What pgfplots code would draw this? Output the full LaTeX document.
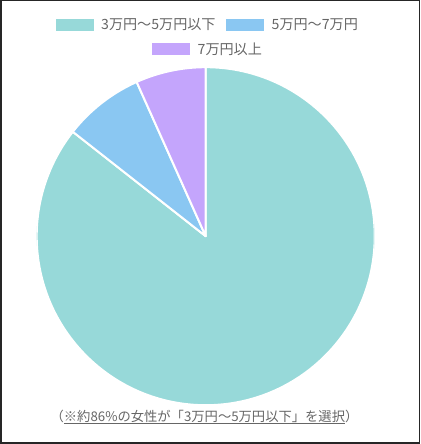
\documentclass[border=0pt]{standalone}
\usepackage{fontspec}
\setmainfont{Noto Sans CJK JP}
\usepackage{pgfplots}
\pgfplotsset{compat=1.18}
\usepackage{pgfplotstable}

\definecolor{pteal}{RGB}{151,217,217}
\definecolor{pblue}{RGB}{138,199,242}
\definecolor{ppurple}{RGB}{196,165,252}
\definecolor{txtgray}{RGB}{102,102,102}

% share of answers, percent
\pgfplotstableread{
value color
85.6 pteal
7.7  pblue
6.7  ppurple
}\piedata

\begin{document}
\begin{tikzpicture}[x=1pt,y=1pt]
\useasboundingbox (0,0) rectangle (420,444);
\draw[black!85, line width=1.5pt] (0.75,0.75) rectangle (419.25,443.25);

\begin{axis}[
    at={(205.7pt,207.8pt)}, anchor=center,
    scale only axis,
    width=338pt, height=338pt,
    xmin=-1, xmax=1, ymin=-1, ymax=1,
    hide axis,
]
    \pgfplotstablegetrowsof{\piedata}
    \pgfmathtruncatemacro{\nrows}{\pgfplotsretval-1}
    \xdef\angstart{90}
    \foreach \i in {0,...,\nrows}{
        \pgfplotstablegetelem{\i}{value}\of\piedata
        \let\val\pgfplotsretval
        \pgfplotstablegetelem{\i}{color}\of\piedata
        \let\col\pgfplotsretval
        \pgfmathsetmacro{\angend}{\angstart-3.6*\val}
        \edef\doslice{\noexpand\filldraw[fill=\col, draw=white, line width=2pt, line join=round]
            (axis cs:0,0) -- ++(\angstart:169pt)
            arc[start angle=\angstart, end angle=\angend, radius=169pt] -- cycle;}
        \doslice
        \xdef\angstart{\angend}
    }
\end{axis}

% legend
\fill[pteal] (55.5,413) rectangle (93.5,425);
\node[anchor=west, inner sep=0, text=txtgray, font=\fontsize{14.1}{16}\selectfont] at (101,419) {3万円～5万円以下};
\fill[pblue] (225.7,413) rectangle (263.5,425);
\node[anchor=west, inner sep=0, text=txtgray, font=\fontsize{14.1}{16}\selectfont] at (271.5,419) {5万円～7万円};
\fill[ppurple] (151.7,389) rectangle (189.5,401);
\node[anchor=west, inner sep=0, text=txtgray, font=\fontsize{14.1}{16}\selectfont] at (197.5,395) {7万円以上};

% note below the pie
\node[text=txtgray, inner sep=0, font=\fontsize{13.3}{16}\selectfont] at (204.5,27)
    {（\underline{※約86\%の女性が「3万円～5万円以下」を選択}）};
\end{tikzpicture}
\end{document}
